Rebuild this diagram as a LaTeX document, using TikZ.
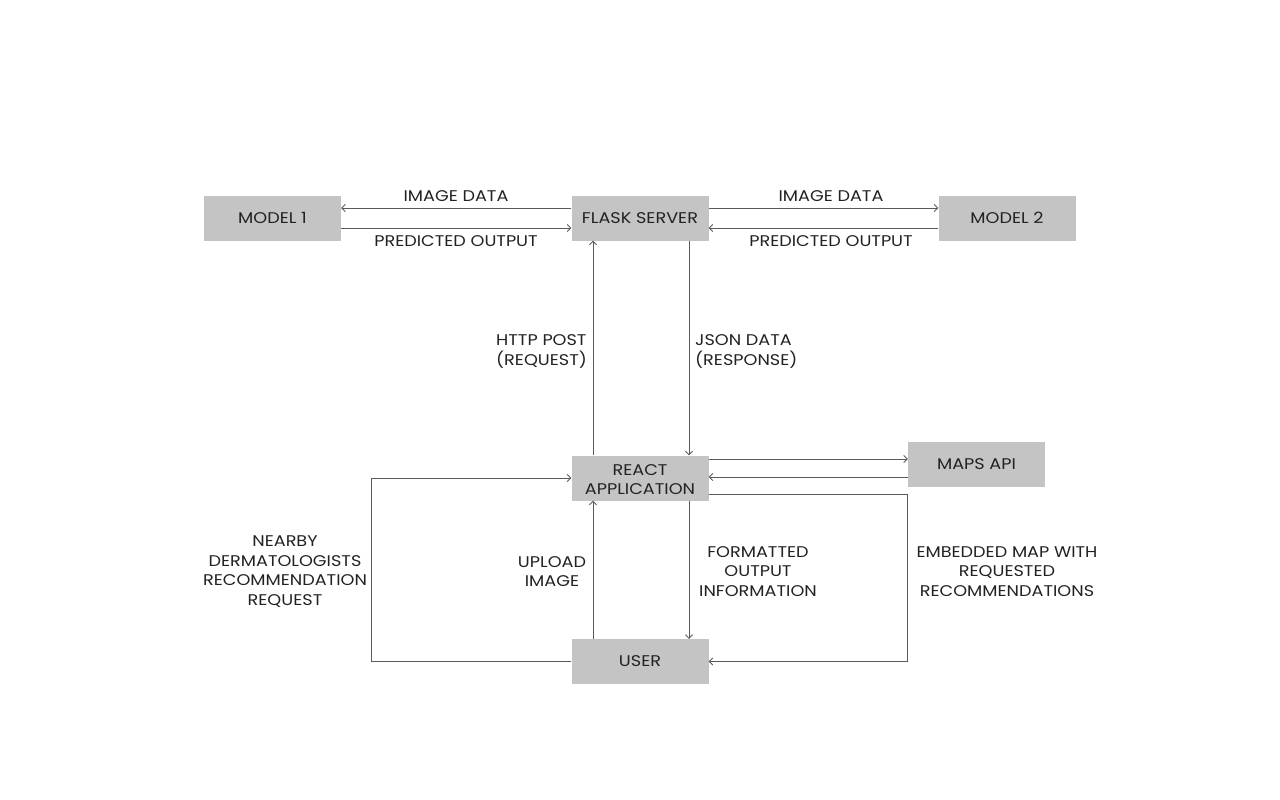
\documentclass[tikz,border=0pt]{standalone}
\usepackage{fontspec}
\setmainfont{Poppins}[FakeStretch=1.14]
\usetikzlibrary{arrows.meta,calc}
\definecolor{boxgray}{HTML}{C4C4C4}
\definecolor{linegray}{HTML}{5A5A5A}
\definecolor{txt}{HTML}{222222}
\begin{document}
\begin{tikzpicture}[x=1pt,y=-1pt,
  blk/.style={fill=boxgray,draw=none,minimum width=137pt,minimum height=45pt,inner sep=0pt,text=txt,font=\fontsize{15.5}{19.5}\selectfont,align=center},
  lbl/.style={text=txt,font=\fontsize{15.5}{19.5}\selectfont,inner sep=0pt},
  arr/.style={draw=linegray,line width=0.9pt,-{Straight Barb[length=3.5pt,width=7pt]}}
]
\useasboundingbox (0,0) rectangle (1280,800);
\node[blk] (m1) at (272.5,218) {MODEL 1};
\node[blk] (flask) at (640,218) {FLASK SERVER};
\node[blk] (m2) at (1007,218) {MODEL 2};
\node[blk] (react) at (640,478) {};
\node[lbl,align=center] (reacttxt) at (640,479.5) {REACT\\APPLICATION};
\node[blk] (maps) at (976.5,464) {MAPS API};
\node[blk] (user) at (640,661.5) {USER};
\coordinate (lc) at (371,0);

% flask <-> model 1
\draw[arr] ([yshift=10pt]flask.west) -- ([yshift=10pt]flask.west -| m1.east);
\draw[arr] ([yshift=-10pt]m1.east) -- ([yshift=-10pt]m1.east -| flask.west);
\node[lbl] (l1) at (456,196) {IMAGE DATA};
\node[lbl] (l2) at (456,241) {PREDICTED OUTPUT};
% flask <-> model 2
\draw[arr] ([yshift=10pt]flask.east) -- ([yshift=10pt]flask.east -| m2.west);
\draw[arr] ([yshift=-10pt]m2.west) -- ([yshift=-10pt]m2.west -| flask.east);
\node[lbl] (l3) at (831,196) {IMAGE DATA};
\node[lbl] (l4) at (831,241) {PREDICTED OUTPUT};
% react <-> flask
\draw[arr] ([xshift=-47pt]react.north) -- ([xshift=-47pt]flask.south);
\draw[arr] ([xshift=49pt]flask.south) -- ([xshift=49pt]react.north);
\node[lbl,align=left,anchor=west] (l5) at (496,351.5) {HTTP POST\\(REQUEST)};
\node[lbl,align=left,anchor=west] (l6) at (695,351.5) {JSON DATA\\(RESPONSE)};
% react <-> maps
\draw[arr] ([yshift=19pt]react.east) -- ([yshift=19pt]react.east -| maps.west);
\draw[arr] ([yshift=-13pt]maps.west) -- ([yshift=-13pt]maps.west -| react.east);
% loops
\draw[arr] ([yshift=-16pt]react.east) -| (user.east -| maps.west) -- (user.east);
\draw[arr] (user.west) -- (user.west -| lc) |- (react.west);
% react <-> user
\draw[arr] ([xshift=-47pt]user.north) -- ([xshift=-47pt]react.south);
\draw[arr] ([xshift=49pt]react.south) -- ([xshift=49pt]user.north);
\node[lbl,align=center] (l7) at (285,571.5) {NEARBY\\DERMATOLOGISTS\\RECOMMENDATION\\REQUEST};
\node[lbl,align=center] (l8) at (552,571.5) {UPLOAD\\IMAGE};
\node[lbl,align=center] (l9) at (758,571.5) {FORMATTED\\OUTPUT\\INFORMATION};
\node[lbl,align=center] (l10) at (1007,571.5) {EMBEDDED MAP WITH\\REQUESTED\\RECOMMENDATIONS};
\end{tikzpicture}
\end{document}
